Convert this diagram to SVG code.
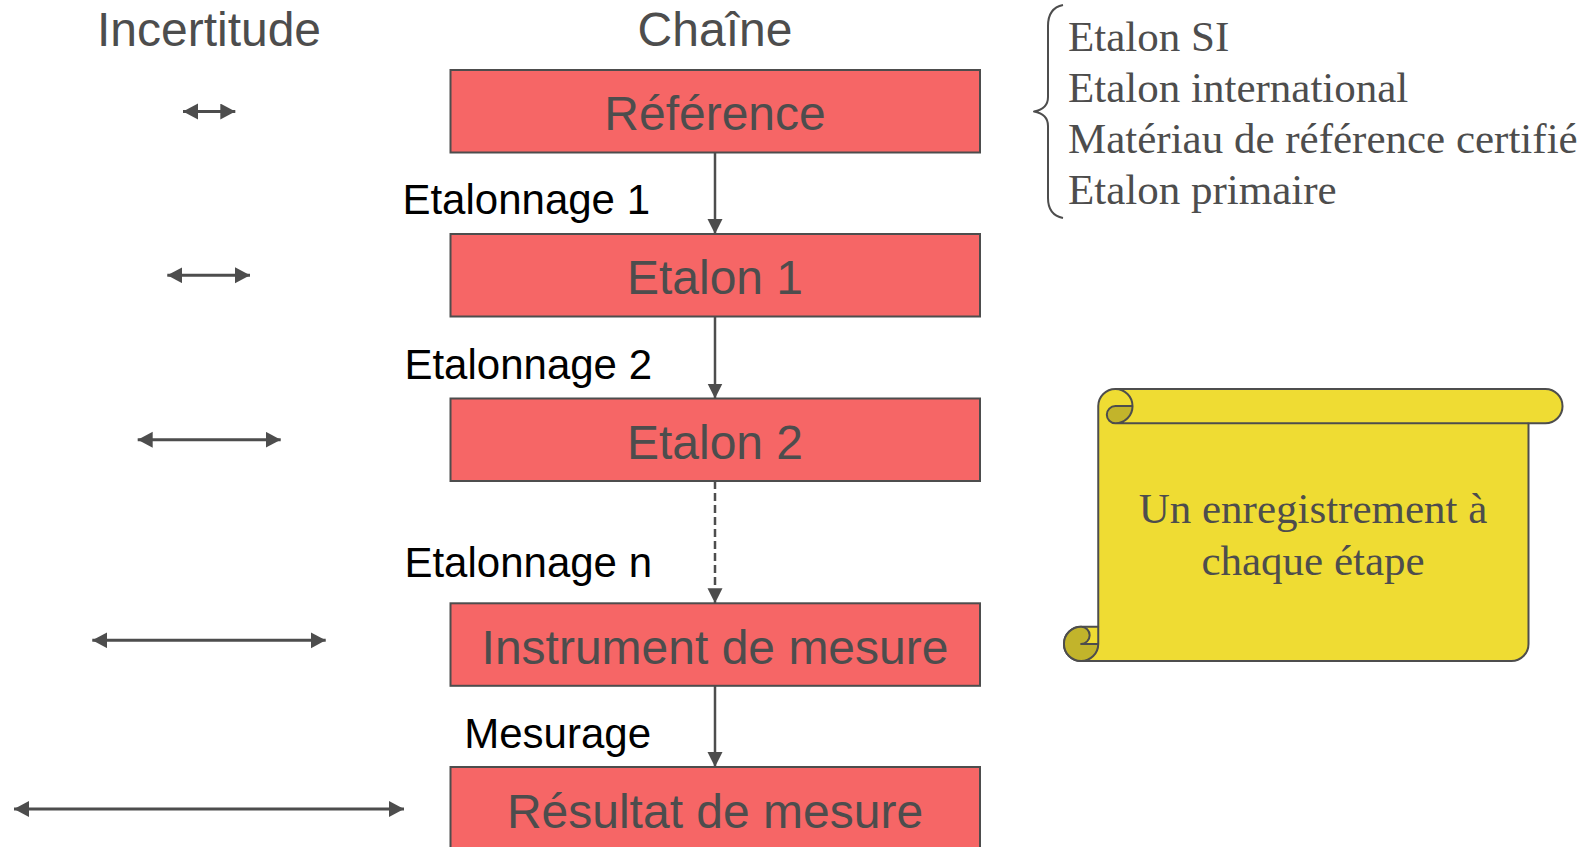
<svg xmlns="http://www.w3.org/2000/svg" width="1595" height="847" viewBox="0 0 1595 847">
  <style>
    .hdr { font-family: "Liberation Sans", Arial, sans-serif; font-size: 48px; fill: #4d4d4d; text-anchor: middle; }
    .box rect { fill: #f66666; stroke: #4d4d4d; stroke-width: 2; }
    .box text { font-family: "Liberation Sans", Arial, sans-serif; font-size: 48px; fill: #4d4d4d; text-anchor: middle; }
    .lbl { font-family: "Liberation Sans", Arial, sans-serif; font-size: 42px; fill: #000; text-anchor: end; }
    .serif { font-family: "Liberation Serif", "Times New Roman", serif; font-size: 43px; fill: #4d4d4d; }
    .conn { stroke: #4d4d4d; stroke-width: 2.5; fill: none; }
    .unc { stroke: #4d4d4d; stroke-width: 3; fill: none; }
    .ink { stroke: #4d4d4d; stroke-width: 2; fill: none; stroke-linejoin: round; }
  </style>
  <defs>
    <marker id="head" markerUnits="userSpaceOnUse" markerWidth="16" markerHeight="16" refX="15" refY="7.5" orient="auto">
      <path d="M0,0 L15,7.5 L0,15 Z" fill="#4d4d4d"/>
    </marker>
    <marker id="tip" markerUnits="userSpaceOnUse" markerWidth="16" markerHeight="17" refX="15" refY="8" orient="auto-start-reverse">
      <path d="M0,0 L15,8 L0,16 Z" fill="#4d4d4d"/>
    </marker>
  </defs>

  <!-- column headings -->
  <text class="hdr" x="209" y="46">Incertitude</text>
  <text class="hdr" x="715" y="46">Chaîne</text>

  <!-- chain nodes -->
  <g id="reference" class="box">
    <rect x="450.5" y="70" width="529.5" height="82.5"/>
    <text x="715" y="130">Référence</text>
  </g>
  <g id="etalon1" class="box">
    <rect x="450.5" y="234" width="529.5" height="82.5"/>
    <text x="715" y="294">Etalon 1</text>
  </g>
  <g id="etalon2" class="box">
    <rect x="450.5" y="398.5" width="529.5" height="82.5"/>
    <text x="715" y="459">Etalon 2</text>
  </g>
  <g id="instrument" class="box">
    <rect x="450.5" y="603.3" width="529.5" height="82.5"/>
    <text x="715" y="664">Instrument de mesure</text>
  </g>
  <g id="resultat" class="box">
    <rect x="450.5" y="767" width="529.5" height="90"/>
    <text x="715" y="828">Résultat de mesure</text>
  </g>

  <!-- chain connectors -->
  <g id="connectors">
    <line class="conn" x1="715" y1="152.5" x2="715" y2="234" marker-end="url(#head)"/>
    <line class="conn" x1="715" y1="316.5" x2="715" y2="398.5" marker-end="url(#head)"/>
    <line class="conn" x1="715" y1="481" x2="715" y2="603.3" stroke-dasharray="8 4" marker-end="url(#head)"/>
    <line class="conn" x1="715" y1="685.8" x2="715" y2="767" marker-end="url(#head)"/>
  </g>

  <!-- connector labels -->
  <g id="labels">
    <text class="lbl" x="650" y="214">Etalonnage 1</text>
    <text class="lbl" x="652" y="379">Etalonnage 2</text>
    <text class="lbl" x="652" y="577">Etalonnage n</text>
    <text class="lbl" x="651" y="748">Mesurage</text>
  </g>

  <!-- uncertainty widths -->
  <g id="uncertainty">
    <line class="unc" x1="183" y1="111.5" x2="235.3" y2="111.5" marker-start="url(#tip)" marker-end="url(#tip)"/>
    <line class="unc" x1="167.3" y1="275.3" x2="250" y2="275.3" marker-start="url(#tip)" marker-end="url(#tip)"/>
    <line class="unc" x1="137.7" y1="439.7" x2="280.7" y2="439.7" marker-start="url(#tip)" marker-end="url(#tip)"/>
    <line class="unc" x1="92.3" y1="640.3" x2="325.7" y2="640.3" marker-start="url(#tip)" marker-end="url(#tip)"/>
    <line class="unc" x1="14" y1="809" x2="404" y2="809" marker-start="url(#tip)" marker-end="url(#tip)"/>
  </g>

  <!-- kinds of reference, grouped by a brace -->
  <g id="reference-kinds">
    <path class="ink" d="M1063,5 Q1048,8 1048,26 L1048,97 Q1048,109 1034,111.5 Q1048,114 1048,126 L1048,198 Q1048,215 1063,218"/>
    <text class="serif" x="1068" y="51">Etalon SI</text>
    <text class="serif" x="1068" y="102">Etalon international</text>
    <text class="serif" x="1068" y="153">Matériau de référence certifié</text>
    <text class="serif" x="1068" y="204">Etalon primaire</text>
  </g>

  <!-- scroll note -->
  <g id="note">
    <path d="M1098.25,406.1 A17.1,17.1 0 0 1 1115.4,389 L1545.4,389 A17.1,17.1 0 0 1 1545.4,423.25 L1528.5,423.25 L1528.5,643.9 A17.1,17.1 0 0 1 1511.4,661 L1081.1,661 A17.1,17.1 0 0 1 1081.1,626.75 L1098.25,626.75 Z" fill="#efdc33" stroke="#4d4d4d" stroke-width="2" stroke-linejoin="round"/>
    <!-- rolled-up corners -->
    <path d="M1115.4,423.25 A8.56,8.56 0 0 1 1115.4,406.1 L1132.5,406.1 A17.1,17.1 0 0 1 1115.4,423.25 Z" fill="#c2b42b"/>
    <path d="M1081.1,626.75 A8.56,8.56 0 0 1 1081.1,643.9 L1098.25,643.9 A17.1,17.1 0 0 1 1081.1,661 A17.1,17.1 0 0 1 1081.1,626.75 Z" fill="#c2b42b"/>
    <path class="ink" d="M1115.4,389 A17.1,17.1 0 0 1 1115.4,423.25 A8.56,8.56 0 0 1 1115.4,406.1 L1132.5,406.1 M1115.4,423.25 L1528.5,423.25"/>
    <path class="ink" d="M1081.1,626.75 A8.56,8.56 0 0 1 1081.1,643.9 L1098.25,643.9 M1098.25,626.75 L1098.25,643.9 A17.1,17.1 0 0 1 1081.1,661 A17.1,17.1 0 0 1 1081.1,626.75"/>
    <text class="serif" x="1313" y="523" text-anchor="middle">Un enregistrement à</text>
    <text class="serif" x="1313" y="575" text-anchor="middle">chaque étape</text>
  </g>
</svg>
